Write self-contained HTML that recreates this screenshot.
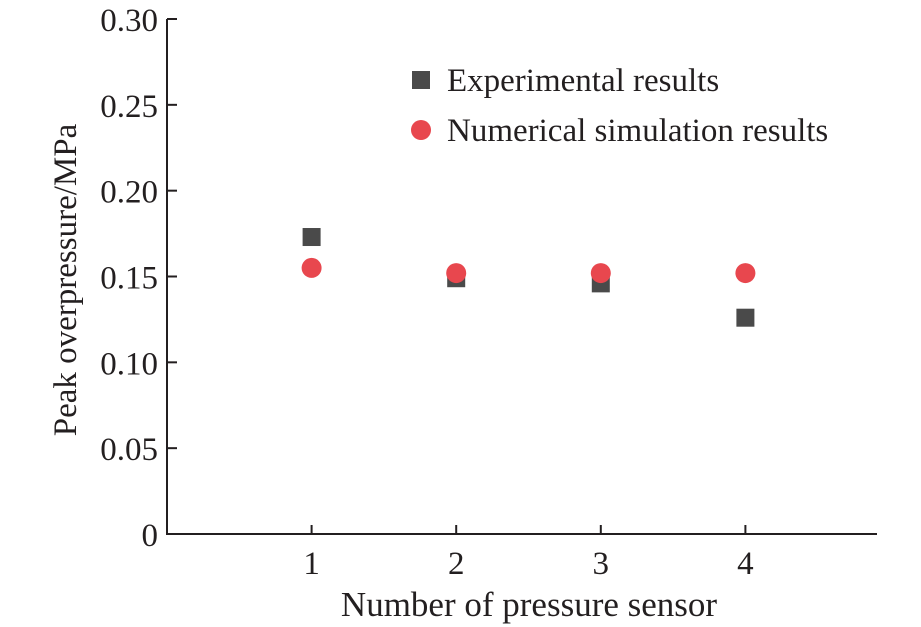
<!DOCTYPE html>
<html><head><meta charset="utf-8"><style>
html,body{margin:0;padding:0;background:#fff;}
svg{display:block;font-family:"Liberation Serif",serif;}
</style></head><body>
<svg id="chart" width="921" height="627" viewBox="0 0 921 627">
<g id="axes"></g><g id="marks"></g>
<g>
<rect x="412" y="71" width="18" height="18" fill="#4a4a4a"/>
<text x="447" y="91" font-size="33" fill="#231f20">Experimental results</text>
<circle cx="421" cy="130" r="10" fill="#e8474e"/>
<text x="447" y="141" font-size="33" fill="#231f20">Numerical simulation results</text>
</g>
<text x="529" y="616" font-size="35" text-anchor="middle" fill="#231f20">Number of pressure sensor</text>
<text transform="translate(76,280) rotate(-90)" font-size="33" text-anchor="middle" fill="#231f20">Peak overpressure/MPa</text>
</svg>
<script>
const categories = [1, 2, 3, 4];
const experimental = [0.173, 0.149, 0.146, 0.126];
const simulation = [0.155, 0.152, 0.152, 0.152];
const yTicks = [0, 0.05, 0.10, 0.15, 0.20, 0.25, 0.30];
const yTickLabels = ["0", "0.05", "0.10", "0.15", "0.20", "0.25", "0.30"];
const xTickLabels = ["1", "2", "3", "4"];

const NS = "http://www.w3.org/2000/svg";
const x0 = 167, x1 = 877, yBot = 534, yTop = 19;
function xs(v){ return x0 + v * 144.6; }
function ys(v){ return yBot - v / 0.30 * (yBot - yTop); }
function mk(tag, attrs, parent){ const e = document.createElementNS(NS, tag); for (const k in attrs) e.setAttribute(k, attrs[k]); parent.appendChild(e); return e; }
const axes = document.getElementById('axes');
const marks = document.getElementById('marks');
let l = mk('line', {x1:x0, y1:yTop, x2:x0, y2:yBot, stroke:'#231f20', 'stroke-width':2}, axes);


l = mk('line', {x1:x0-1, y1:yBot, x2:x1, y2:yBot, stroke:'#231f20', 'stroke-width':2}, axes);


yTicks.forEach((v, i) => {
  const y = ys(v);
  const t = mk('line', {x1:x0, y1:y, x2:x0+10, y2:y, stroke:'#231f20', 'stroke-width':2}, axes);
  
  
  const tx = mk('text', {x:x0-9, y:y+12, 'font-size':33, 'text-anchor':'end', fill:'#231f20'}, axes);
  tx.textContent = yTickLabels[i];
  
  
});
categories.forEach((c, i) => {
  const x = xs(c);
  const t = mk('line', {x1:x, y1:yBot, x2:x, y2:yBot-9, stroke:'#231f20', 'stroke-width':2}, axes);
  
  
  const tx = mk('text', {x:x, y:yBot+40, 'font-size':33, 'text-anchor':'middle', fill:'#231f20'}, axes);
  tx.textContent = xTickLabels[i];
  
  
});
categories.forEach((c, i) => {
  const r = mk('rect', {x:xs(c)-9, y:ys(experimental[i])-9, width:18, height:18, fill:'#4a4a4a'}, marks);
  
  
});
categories.forEach((c, i) => {
  const p = mk('circle', {cx:xs(c), cy:ys(simulation[i]), r:10, fill:'#e8474e'}, marks);
  
  
});
</script>
</body></html>
